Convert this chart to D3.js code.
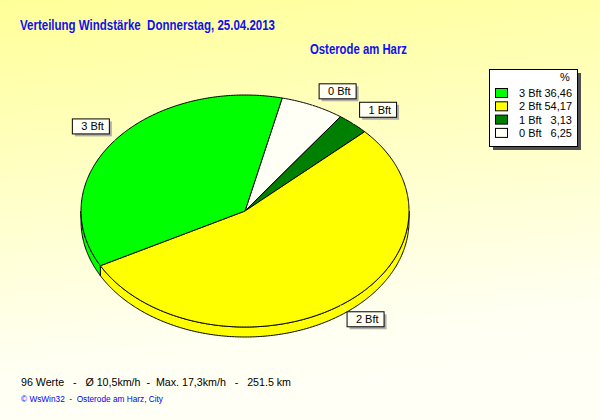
<!DOCTYPE html>
<html><head><meta charset="utf-8">
<script src="https://cdn.jsdelivr.net/npm/d3@7"></script>
<style>html,body{margin:0;padding:0;background:#fff}svg{display:block}text{white-space:pre}</style>
</head><body>
<script>
const categories = ["0 Bft", "1 Bft", "2 Bft", "3 Bft"];
const values = [6.25, 3.13, 54.17, 36.46];
const colors = ["#FFFFF6", "#008000", "#FFFF00", "#00FF00"];
const legendOrder = ["3 Bft", "2 Bft", "1 Bft", "0 Bft"];
const titleText = "Verteilung Windstärke  Donnerstag, 25.04.2013";
const subtitleText = "Osterode am Harz";
const footerText = "96 Werte   -   Ø 10,5km/h  -  Max. 17,3km/h   -   251.5 km";
const copyrightText = "© WsWin32  -  Osterode am Harz, City";

const W = 600, H = 420;
const cx = 245, cy = 211, rx = 164, ry = 116, depth = 10;
const startDeg = 13.1;

const svg = d3.select("body").append("svg").attr("width", W).attr("height", H);
const defs = svg.append("defs");
const grad = defs.append("linearGradient").attr("id", "bg").attr("x1", 0).attr("y1", 0).attr("x2", 0.15).attr("y2", 1);
grad.append("stop").attr("offset", "0%").attr("stop-color", "#FFFF99");
grad.append("stop").attr("offset", "85%").attr("stop-color", "#FFFFF2");
grad.append("stop").attr("offset", "100%").attr("stop-color", "#FFFFF6");
svg.append("rect").attr("width", W).attr("height", H).attr("fill", "url(#bg)");

// scales mapping unit circle to the tilted ellipse
const xs = d3.scaleLinear().domain([-1, 1]).range([cx - rx, cx + rx]);
const ys = d3.scaleLinear().domain([-1, 1]).range([cy - ry, cy + ry]);
const ptX = a => xs(Math.sin(a));
const ptY = a => ys(-Math.cos(a));

const a0 = startDeg * Math.PI / 180;
const pie = d3.pie().sort(null).value(d => d.v).startAngle(a0).endAngle(a0 + 2 * Math.PI);
const data = categories.map((c, i) => ({ c, v: values[i], color: colors[i] }));
const arcs = pie(data);
const line = d3.line();

function arcPts(s, e, dy) {
  const n = Math.max(2, Math.ceil((e - s) / 0.01));
  const pts = [];
  for (let i = 0; i <= n; i++) { const a = s + (e - s) * i / n; pts.push([ptX(a), ptY(a) + dy]); }
  return pts;
}

// side walls
const g = svg.append("g");
arcs.forEach(d => {
  [0, 2 * Math.PI].forEach(k => {
    const lo = Math.max(d.startAngle, Math.PI / 2 + k), hi = Math.min(d.endAngle, 1.5 * Math.PI + k);
    if (hi > lo) {
      const top = arcPts(lo, hi, 0), bot = arcPts(lo, hi, depth).reverse();
      g.append("path").attr("d", line(top.concat(bot)) + "Z")
        .attr("fill", d.data.color).attr("stroke", "#000").attr("stroke-width", 1).attr("stroke-linejoin", "round");
    }
  });
});
// top faces
arcs.forEach(d => {
  const pts = [[cx, cy]].concat(arcPts(d.startAngle, d.endAngle, 0));
  g.append("path").attr("d", line(pts) + "Z")
    .attr("fill", d.data.color).attr("stroke", "#000").attr("stroke-width", 1).attr("stroke-linejoin", "round");
});

// labels
const lf = "'Liberation Sans', Arial, sans-serif";
arcs.forEach(d => {
  const m = (d.startAngle + d.endAngle) / 2;
  const x0 = ptX(m), y0 = ptY(m);
  const right = Math.sin(m) > 0, up = Math.cos(m) > 0;
  const bw = 37, bh = 15;
  const bx = right ? x0 + 6 : x0 - 6 - bw;
  const by = up ? y0 - 7 - bh : y0 + 6;
  const cxn = right ? bx : bx + bw, cyn = up ? by + bh : by;
  svg.append("line").attr("x1", x0).attr("y1", y0).attr("x2", cxn).attr("y2", cyn)
    .attr("stroke", "#fff").attr("stroke-width", 1);
  svg.append("rect").attr("x", bx + 3).attr("y", by + 3).attr("width", bw).attr("height", bh).attr("fill", "#B0B0A8");
  svg.append("rect").attr("x", bx + 0.5).attr("y", by + 0.5).attr("width", bw).attr("height", bh)
    .attr("fill", "#FFFFF4").attr("stroke", "#000").attr("stroke-width", 1);
  svg.append("text").attr("x", bx + bw - 5).attr("y", by + 12).attr("text-anchor", "end")
    .attr("font-family", lf).attr("font-size", 11).attr("fill", "#000").text(d.data.c);
});

// legend
const lx = 489, ly = 69, lw = 88, lh = 77;
svg.append("rect").attr("x", lx + 4).attr("y", ly + 4).attr("width", lw).attr("height", lh).attr("fill", "#505050");
svg.append("rect").attr("x", lx + 0.5).attr("y", ly + 0.5).attr("width", lw).attr("height", lh)
  .attr("fill", "#FFFFFF").attr("stroke", "#000").attr("stroke-width", 1);
svg.append("text").attr("x", 560).attr("y", 81).attr("font-family", lf).attr("font-size", 11).text("%");
const fmt = v => d3.format(".2f")(v).replace(".", ",");
legendOrder.forEach((c, i) => {
  const idx = categories.indexOf(c);
  const y = 93 + i * 13.3;
  svg.append("rect").attr("x", 495.5).attr("y", y - 4.5).attr("width", 12).attr("height", 9)
    .attr("fill", colors[idx]).attr("stroke", "#000").attr("stroke-width", 1);
  svg.append("text").attr("x", 519).attr("y", y + 4).attr("font-family", lf).attr("font-size", 11).text(c);
  svg.append("text").attr("x", 572).attr("y", y + 4).attr("text-anchor", "end").attr("font-family", lf).attr("font-size", 11).text(fmt(values[idx]));
});

// titles
const nf = "'Liberation Sans Narrow', 'Arial Narrow', 'Liberation Sans', sans-serif";
svg.append("text").attr("x", 20).attr("y", 30).attr("font-family", nf).attr("font-weight", "bold").attr("font-size", 14)
  .attr("fill", "#1010F0").attr("textLength", 255).attr("lengthAdjust", "spacingAndGlyphs").text(titleText);
svg.append("text").attr("x", 310).attr("y", 54).attr("font-family", nf).attr("font-weight", "bold").attr("font-size", 14)
  .attr("fill", "#1010F0").attr("textLength", 97).attr("lengthAdjust", "spacingAndGlyphs").text(subtitleText);
svg.append("text").attr("x", 21).attr("y", 386).attr("font-family", lf).attr("font-size", 11).attr("fill", "#000")
  .attr("textLength", 270).attr("lengthAdjust", "spacingAndGlyphs").text(footerText);
svg.append("text").attr("x", 21).attr("y", 402).attr("font-family", lf).attr("font-size", 8.5).attr("fill", "#0000FF")
  .attr("textLength", 142).attr("lengthAdjust", "spacingAndGlyphs").text(copyrightText);
</script>
</body></html>
